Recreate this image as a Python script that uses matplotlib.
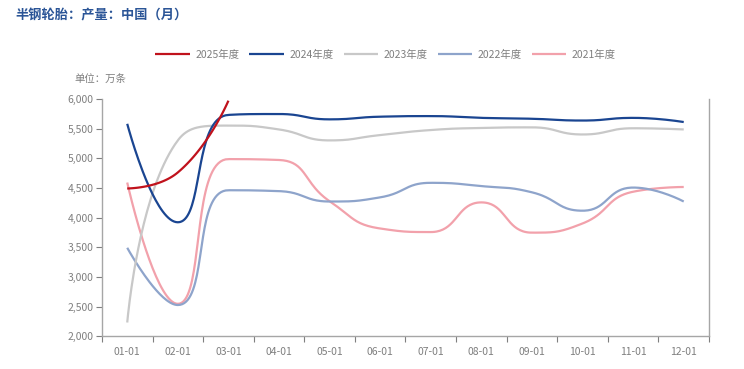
import numpy as np
import matplotlib.pyplot as plt
from matplotlib.ticker import FuncFormatter, FixedLocator

plt.rcParams['font.family'] = ['Noto Sans CJK SC', 'DejaVu Sans']

months = ['01-01', '02-01', '03-01', '04-01', '05-01', '06-01',
          '07-01', '08-01', '09-01', '10-01', '11-01', '12-01']

y2025 = [4490, 4760, 5970]
y2024 = [5580, 3920, 5730, 5745, 5655, 5700, 5710, 5680, 5665, 5635, 5680, 5610]
y2023 = [2230, 5300, 5550, 5485, 5300, 5390, 5475, 5510, 5520, 5400, 5505, 5485]
y2022 = [3490, 2525, 4460, 4445, 4270, 4340, 4585, 4530, 4425, 4115, 4505, 4270]
y2021 = [4590, 2545, 4985, 4970, 4275, 3815, 3755, 4255, 3745, 3900, 4435, 4515]

series = [('2025年度', y2025, '#C0121C'),
          ('2024年度', y2024, '#1A4591'),
          ('2023年度', y2023, '#C8C8C8'),
          ('2022年度', y2022, '#8EA4CB'),
          ('2021年度', y2021, '#F2A1AB')]

# pixel scale of the plot area (used only for the smoothing shape)
SX = 607 / 12.0
SY = 237 / 4000.0


def smooth_line(vals, smooth=0.5, n=40):
    # bezier smoothing with control points clamped between neighbours
    pts = np.column_stack([np.arange(len(vals)) * SX, np.array(vals, float) * SY])
    xs, ys = [pts[0, 0]], [pts[0, 1]]
    cp0 = pts[0].copy()
    t = np.linspace(0, 1, n)[1:, None]
    for i in range(1, len(pts)):
        prev, cur = pts[i - 1], pts[i]
        if i == len(pts) - 1:
            cp1 = cur.copy()
            nxt_cp0 = cur.copy()
        else:
            nxt = pts[i + 1]
            v = nxt - prev
            lp = np.hypot(*(cur - prev))
            ln = np.hypot(*(nxt - cur))
            r = ln / (ln + lp)
            ncp = cur + v * smooth * r
            ncp = np.minimum(ncp, np.maximum(nxt, cur))
            ncp = np.maximum(ncp, np.minimum(nxt, cur))
            v = ncp - cur
            cp1 = cur - v * lp / ln
            cp1 = np.minimum(cp1, np.maximum(prev, cur))
            cp1 = np.maximum(cp1, np.minimum(prev, cur))
            v = cur - cp1
            nxt_cp0 = cur + v * ln / lp
        seg = ((1 - t) ** 3) * prev + 3 * ((1 - t) ** 2) * t * cp0 + 3 * (1 - t) * t ** 2 * cp1 + t ** 3 * cur
        xs.extend(seg[:, 0])
        ys.extend(seg[:, 1])
        cp0 = nxt_cp0
    return np.array(xs) / SX, np.array(ys) / SY


fig = plt.figure(figsize=(7.44, 3.69), dpi=100)
ax = fig.add_axes([0.137, 0.089, 0.816, 0.643])

handles = {}
for k in [4, 3, 2, 1, 0]:
    name, vals, col = series[k]
    xs, ys = smooth_line(vals)
    ln, = ax.plot(xs, ys, color=col, lw=1.6, label=name, solid_capstyle='butt')
    handles[k] = ln

ax.set_xlim(-0.5, 11.5)
ax.set_ylim(2000, 6000)
ax.set_yticks(np.arange(2000, 6001, 500))
ax.yaxis.set_major_formatter(FuncFormatter(lambda v, p: '{:,}'.format(int(v))))
ax.set_xticks(np.arange(12))
ax.set_xticklabels(months)
ax.xaxis.set_minor_locator(FixedLocator(np.arange(-0.5, 12, 1)))
ax.tick_params(axis='x', which='major', length=0, pad=8, labelsize=7.5, labelcolor='#7f7f7f')
ax.tick_params(axis='x', which='minor', length=4, color='#7f7f7f', width=0.8)
ax.tick_params(axis='y', length=4, color='#7f7f7f', width=0.8, labelsize=7.5, labelcolor='#7f7f7f', pad=2)

ax.spines['top'].set_visible(False)
for s in ['left', 'right', 'bottom']:
    ax.spines[s].set_color('#a6a6a6')
    ax.spines[s].set_linewidth(1.0)

fig.text(0.02, 0.958, '半钢轮胎：产量：中国（月）', fontsize=9.5, fontweight='bold',
         color='#2B5597', ha='left', va='center')
fig.text(0.100, 0.787, '单位：万条', fontsize=7.5, color='#7f7f7f', ha='left', va='center')

fig.legend([handles[k] for k in range(5)], [s[0] for s in series],
           loc='center', bbox_to_anchor=(0.518, 0.852), ncol=5, frameon=False,
           fontsize=7.5, handlelength=3.3, columnspacing=1.0, handletextpad=0.5,
           labelcolor='#7f7f7f')

fig.savefig('out.png', dpi=100)
